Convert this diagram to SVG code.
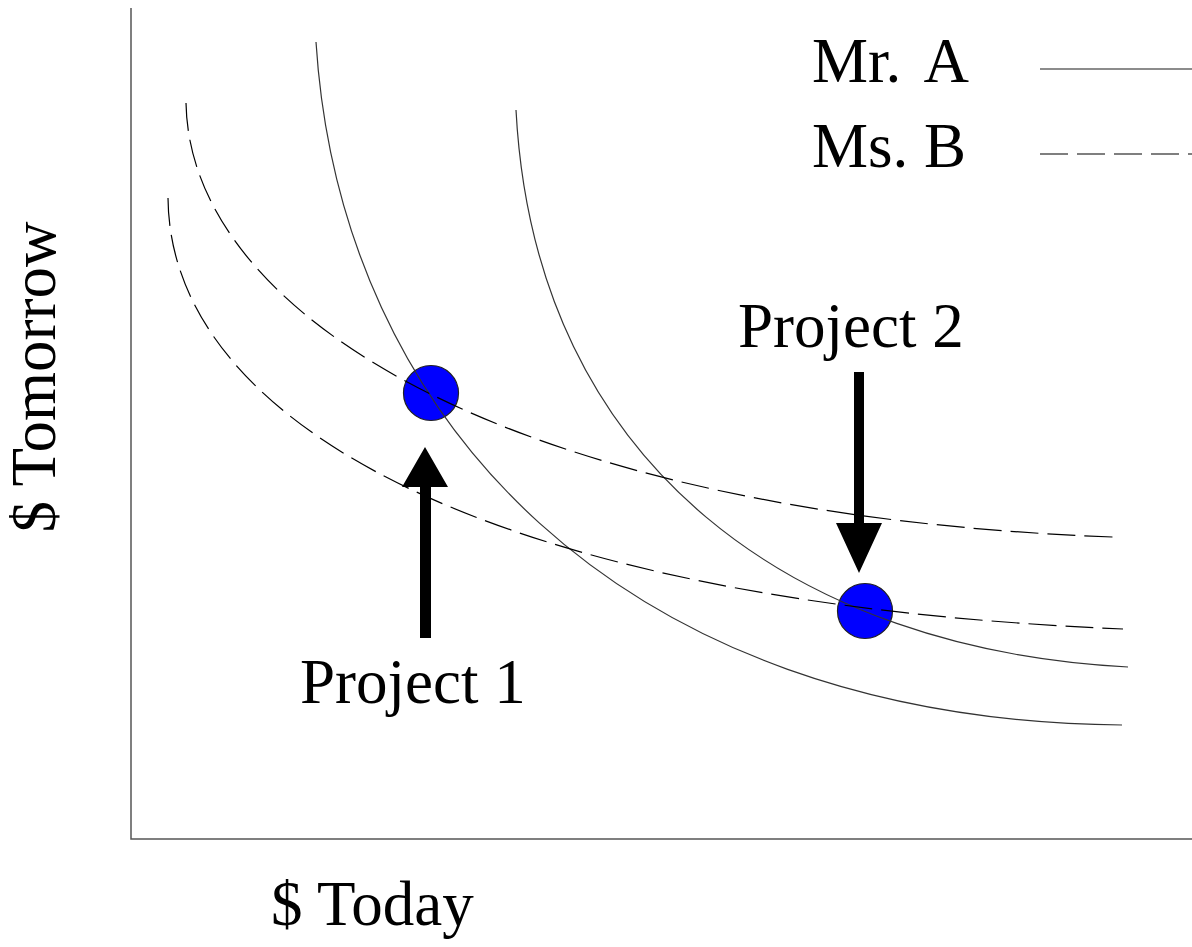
<svg xmlns="http://www.w3.org/2000/svg" width="1192" height="947" viewBox="0 0 1192 947">
<style>
.t{font-family:"Liberation Serif","Times New Roman",serif;font-size:63px;fill:#000}
.solid{fill:none;stroke:#333;stroke-width:1.2}
.dash{fill:none;stroke:#000;stroke-width:1.2;stroke-dasharray:28 9}
.dot{fill:#0000ff;stroke:#222;stroke-width:1.2}
.arr{fill:#000}
</style>
<rect width="1192" height="947" fill="#fff"/>
<g id="axes">
<path d="M131,8 V839 H1192" fill="none" stroke="#555" stroke-width="1.5"/>
</g>
<g id="project1">
<circle class="dot" cx="431" cy="393" r="27.5"/>
<path class="arr" d="M420,638 V487 H402 L425,447 L448,487 H431 V638 Z"/>
<text class="t" x="300" y="703">Project 1</text>
</g>
<g id="project2">
<circle class="dot" cx="865" cy="611" r="27.5"/>
<path class="arr" d="M854,372 H864 V523 H882 L859,573 L836,523 H854 Z"/>
<text class="t" x="738" y="347">Project 2</text>
</g>
<g id="connectors">
<path class="solid" d="M316,42 C340,420 620,720 1122,725"/>
<path class="solid" d="M516,110 C535,470 800,650 1128,667"/>
<path class="dash" d="M186,103 C190,320 520,515 1113,537"/>
<path class="dash" d="M168,198 C170,420 480,602 1123,629"/>
</g>
<g id="legend">
<text class="t" x="812" y="82">Mr. <tspan dx="10">A</tspan></text>
<line x1="1040" y1="69" x2="1192" y2="69" stroke="#666" stroke-width="1.5"/>
<text class="t" x="812" y="167">Ms. B</text>
<line class="dash" x1="1040" y1="154" x2="1192" y2="154"/>
</g>
<g id="labels">
<text class="t" x="271" y="925">$ Today</text>
<text class="t" transform="translate(55,377) rotate(-90)" text-anchor="middle">$ Tomorrow</text>
</g>
</svg>
